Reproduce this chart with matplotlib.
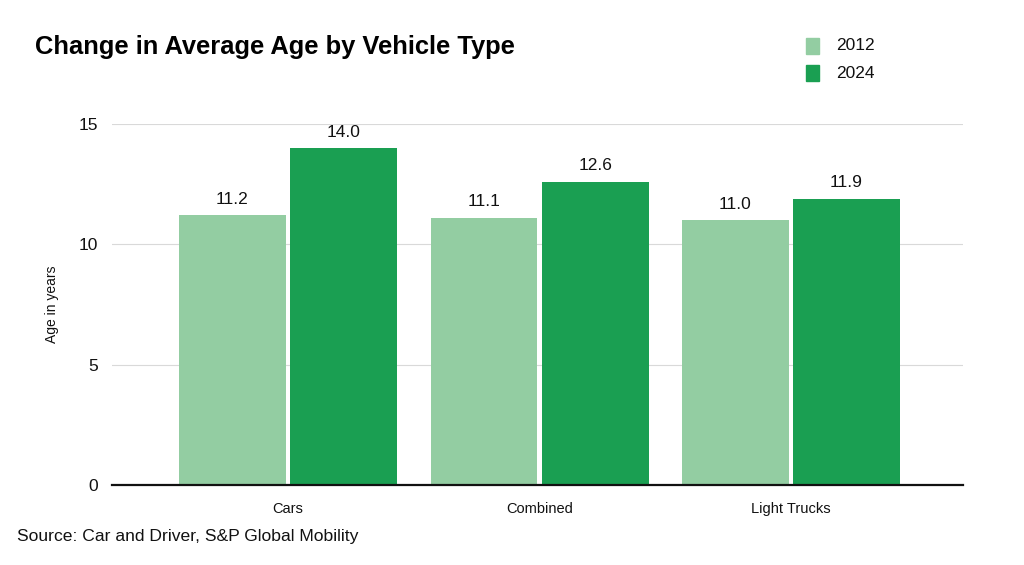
import matplotlib
matplotlib.use("Agg")
import matplotlib.pyplot as plt
import numpy as np
from matplotlib.patches import Rectangle

categories = ["Cars", "Combined", "Light Trucks"]
series_names = ["2012", "2024"]
values_2012 = [11.2, 11.1, 11.0]
values_2024 = [14.0, 12.6, 11.9]
yticks = [0, 5, 10, 15]

light = "#93cda2"
dark = "#1a9f52"

plt.rcParams["font.family"] = ["Liberation Sans", "DejaVu Sans"]

fig = plt.figure(figsize=(10.24, 5.65), dpi=100)
ax = fig.add_axes([0.1094, 0.1416, 0.831, 0.6389])

x = np.arange(len(categories))
w = 0.425
off = 0.221
b1 = ax.bar(x - off, values_2012, w, color=light, zorder=3)
b2 = ax.bar(x + off, values_2024, w, color=dark, zorder=3)

for bars, vals in ((b1, values_2012), (b2, values_2024)):
    for r, v in zip(bars, vals):
        ax.text(r.get_x() + r.get_width() / 2, v + 0.35, f"{v:.1f}",
                ha="center", va="bottom", fontsize=12.5, color="#111111")

ax.set_xlim(-0.70, 2.684)
ax.set_ylim(0, 15)
ax.set_yticks(yticks)
ax.set_xticks(x)
ax.set_xticklabels(categories, fontsize=10.5)
ax.tick_params(axis="y", length=0, labelsize=12.5, pad=10, colors="#111111")
ax.tick_params(axis="x", length=0, pad=12, colors="#111111")
ax.grid(axis="y", color="#d9d9d9", linewidth=0.8, zorder=0)
for s in ["top", "right", "left"]:
    ax.spines[s].set_visible(False)
ax.spines["bottom"].set_linewidth(1.6)
ax.spines["bottom"].set_color("#111111")
ax.spines["bottom"].set_zorder(4)
ax.set_ylabel("Age in years", fontsize=10, labelpad=14, color="#111111")

fig.text(0.034, 0.916, "Change in Average Age by Vehicle Type", fontsize=18.4,
         fontweight="bold", ha="left", va="center", color="#000000")
fig.text(0.017, 0.051, "Source: Car and Driver, S&P Global Mobility",
         fontsize=12.6, ha="left", va="center", color="#111111")

for i, (name, col) in enumerate(zip(series_names, [light, dark])):
    yc = 1 - (46 + i * 27) / 565
    fig.patches.append(Rectangle((806 / 1024, yc - 8 / 565), 13 / 1024, 16 / 565,
                                 transform=fig.transFigure, color=col))
    fig.text(836 / 1024, yc, name, fontsize=12.5, ha="left", va="center",
             color="#111111")

fig.savefig("out.png", dpi=100, facecolor="white")
